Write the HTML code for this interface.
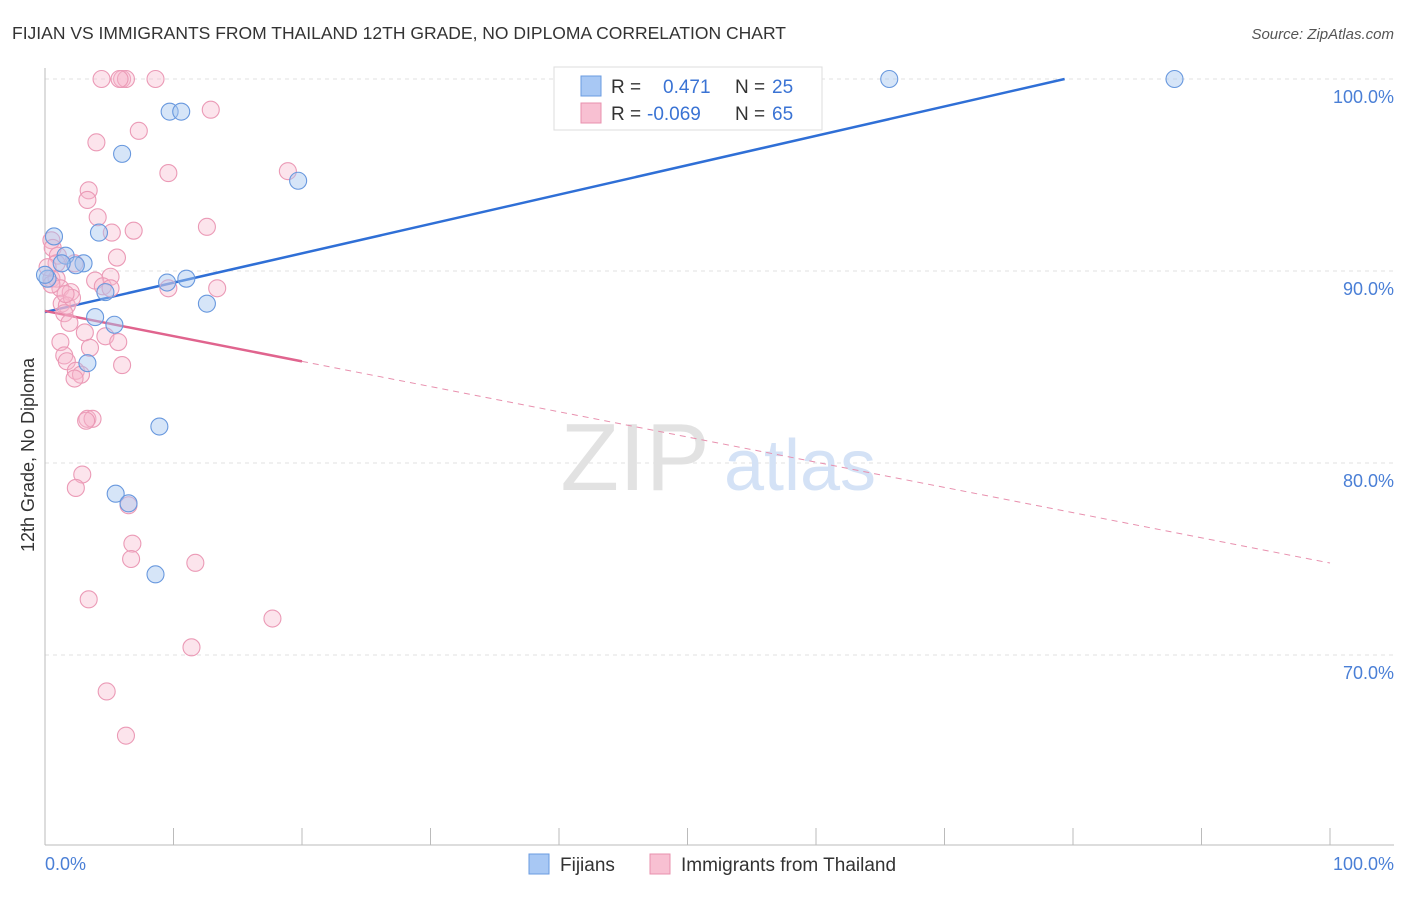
<!DOCTYPE html>
<html><head><meta charset="utf-8"><style>
body{margin:0;background:#fff;font-family:"Liberation Sans",sans-serif}
svg text{font-family:"Liberation Sans",sans-serif}
</style></head><body>
<svg id="chart" width="1406" height="892">
<text x="12" y="39" font-size="17.5" fill="#333">FIJIAN VS IMMIGRANTS FROM THAILAND 12TH GRADE, NO DIPLOMA CORRELATION CHART</text>
<text x="1394" y="39" font-size="15" fill="#555" font-style="italic" text-anchor="end">Source: ZipAtlas.com</text>
<g id="grid"></g>
<text x="635" y="490" font-size="96" fill="#e2e2e2" font-family="Liberation Serif" text-anchor="middle">ZIP</text>
<text x="800" y="490" font-size="72" fill="#d4e2f6" text-anchor="middle">atlas</text>
<line x1="45" y1="68" x2="45" y2="845" stroke="#bbb"/>
<line x1="45" y1="845" x2="1394" y2="845" stroke="#bbb"/>
<text transform="translate(34,455) rotate(-90)" font-size="18" fill="#333" text-anchor="middle">12th Grade, No Diploma</text>
<text x="45" y="870" font-size="18" fill="#4a7fd6">0.0%</text>
<text x="1394" y="870" font-size="18" fill="#4a7fd6" text-anchor="end">100.0%</text>
<g id="lines"></g>
<g id="pts"></g>
<g>
<rect x="554" y="67" width="268" height="63" fill="#fff" stroke="#ddd"/>
<rect x="581" y="76" width="20" height="20" fill="#a8c8f4" stroke="#6a9be0"/>
<text x="611" y="93" font-size="19" fill="#333">R = </text><text x="663" y="93" font-size="19" fill="#3a73d4">0.471</text>
<text x="735" y="93" font-size="19" fill="#333">N = </text><text x="772" y="93" font-size="19" fill="#3a73d4">25</text>
<rect x="581" y="103" width="20" height="20" fill="#f8c0d2" stroke="#e890ae"/>
<text x="611" y="120" font-size="19" fill="#333">R = </text><text x="647" y="120" font-size="19" fill="#3a73d4">-0.069</text>
<text x="735" y="120" font-size="19" fill="#333">N = </text><text x="772" y="120" font-size="19" fill="#3a73d4">65</text>
</g>
<g>
<rect x="529" y="854" width="20" height="20" fill="#a8c8f4" stroke="#6a9be0"/>
<text x="560" y="871" font-size="19" fill="#333">Fijians</text>
<rect x="650" y="854" width="20" height="20" fill="#f8c0d2" stroke="#e890ae"/>
<text x="681" y="871" font-size="19" fill="#333">Immigrants from Thailand</text>
</g>
</svg>
<script>
const yTicks=[100,90,80,70];
const yTickLabels=["100.0%","90.0%","80.0%","70.0%"];
const fijiX=[9.7,10.6,6.0,19.7,0.7,4.2,1.6,3.0,2.4,1.3,0.2,9.5,11.0,4.7,12.6,3.9,5.4,3.3,8.9,5.5,6.5,8.6,65.7,87.9,0.0];
const fijiY=[98.3,98.3,96.1,94.7,91.8,92.0,90.8,90.4,90.3,90.4,89.6,89.4,89.6,88.9,88.3,87.6,87.2,85.2,81.9,78.4,77.9,74.2,100,100,89.8];
const thaiX=[4.4,6.0,6.3,8.6,5.8,12.9,7.3,4.0,9.6,3.4,3.3,4.1,18.9,12.6,5.2,6.9,0.5,0.6,1.0,0.9,5.6,2.3,5.1,3.9,0.5,0.9,1.2,13.4,9.6,4.5,2.0,1.3,1.7,2.1,1.5,1.9,3.1,4.7,5.7,3.5,1.2,1.5,1.7,2.4,2.8,2.3,6.0,3.3,3.7,3.2,2.9,2.4,6.5,6.8,6.7,11.7,3.4,17.7,11.4,4.8,6.3,0.2,0.5,1.6,5.1];
const thaiY=[100,100,100,100,100,98.4,97.3,96.7,95.1,94.2,93.7,92.8,95.2,92.3,92.0,92.1,91.6,91.2,90.8,90.4,90.7,90.4,89.7,89.5,89.6,89.6,89.1,89.1,89.1,89.2,88.9,88.3,88.2,88.6,87.8,87.3,86.8,86.6,86.3,86.0,86.3,85.6,85.3,84.8,84.6,84.4,85.1,82.3,82.3,82.2,79.4,78.7,77.8,75.8,75.0,74.8,72.9,71.9,70.4,68.1,65.8,90.2,89.3,88.8,89.1];
const fijiTrend=[87.86,0.153];
const thaiTrend=[87.92,-0.1313];
const thaiSolidEnd=20;
const xTicks=[0,10,20,30,40,50,60,70,80,90,100];
const sx=v=>45+v*12.85, sy=v=>79+(100-v)*19.2;
const NS="http://www.w3.org/2000/svg";
function mk(t,a,p){const e=document.createElementNS(NS,t);for(const k in a)e.setAttribute(k,a[k]);p.appendChild(e);return e;}
const grid=document.getElementById('grid');
yTicks.forEach((v,i)=>{
 const l=mk('line',{x1:45,x2:1394,y1:sy(v),y2:sy(v),stroke:'#e2e2e2','stroke-dasharray':'4,4'},grid);
 
 
 const t=mk('text',{x:1394,y:sy(v)+24,'font-size':18,fill:'#4a7fd6','text-anchor':'end'},grid);
 t.textContent=yTickLabels[i];
 
 
});
xTicks.forEach(v=>{
 const l=mk('line',{x1:sx(v),x2:sx(v),y1:828,y2:845,stroke:'#bbb'},grid);
 
 
});
const L=document.getElementById('lines');
const bl=mk('line',{x1:sx(0),y1:sy(fijiTrend[0]),x2:sx((100-fijiTrend[0])/fijiTrend[1]),y2:sy(100),stroke:'#2f6fd6','stroke-width':2.5},L);


const py=x=>thaiTrend[0]+thaiTrend[1]*x;
const pl=mk('line',{x1:sx(0),y1:sy(py(0)),x2:sx(thaiSolidEnd),y2:sy(py(thaiSolidEnd)),stroke:'#e0648e','stroke-width':2.5},L);


const pd=mk('line',{x1:sx(thaiSolidEnd),y1:sy(py(thaiSolidEnd)),x2:sx(100),y2:sy(py(100)),stroke:'#e890ae','stroke-width':1,'stroke-dasharray':'6,5'},L);


const P=document.getElementById('pts');
thaiX.forEach((x,i)=>{
 const c=mk('circle',{cx:sx(x),cy:sy(thaiY[i]),r:8.5,fill:'rgba(248,185,205,0.38)',stroke:'#eb9ab6','stroke-width':1.1},P);
 
 
});
fijiX.forEach((x,i)=>{
 const c=mk('circle',{cx:sx(x),cy:sy(fijiY[i]),r:8.5,fill:'rgba(165,198,240,0.45)',stroke:'#6898de','stroke-width':1.1},P);
 
 
});
</script>
</body></html>
